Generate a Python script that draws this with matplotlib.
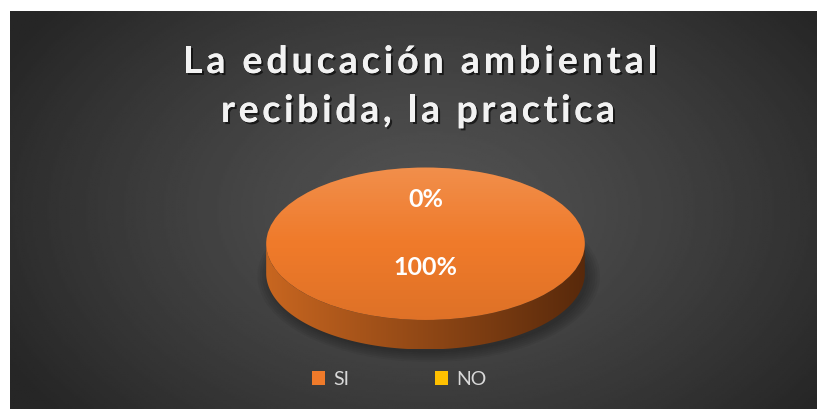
import numpy as np
import matplotlib.pyplot as plt
from matplotlib import patheffects as pe
from matplotlib.patches import Polygon, Ellipse
from matplotlib.font_manager import FontProperties, findfont
from matplotlib.ft2font import FT2Font

# datos
labels = ['SI', 'NO']
values = [100, 0]
colors = ['#ef7a2a', '#ffc000']
title_lines = ['La educación ambiental', 'recibida, la practica']

plt.rcParams['font.family'] = ['Lato', 'DejaVu Sans']

W, H = 817, 410
fig = plt.figure(figsize=(W / 100, H / 100), dpi=100)
fig.patch.set_facecolor('white')

# fondo con degradado radial
bg = fig.add_axes([10 / W, 0, (W - 10) / W, (H - 12) / H])
yy, xx = np.mgrid[0:1:200j, 0:1:400j]
r = np.sqrt(((xx - 0.52) / 0.6) ** 2 + ((yy - 0.5) / 0.8) ** 2)
v = 0.32 + (0.15 - 0.32) * np.clip(r, 0, 1) ** 1.3
bg.imshow(v, cmap='gray', vmin=0, vmax=1, extent=(0, 1, 0, 1), aspect='auto')
bg.axis('off')


# titulo con espaciado entre letras
def spaced_text(s, xc, ybase, size, width_px):
    fp = FontProperties(family='Lato', weight='bold', size=size)
    font = FT2Font(findfont(fp))
    font.set_size(size, 100)
    adv = [font.load_char(ord(c)).linearHoriAdvance / 65536 for c in s]
    sp = (width_px - sum(adv)) / (len(s) - 1)
    x = xc - width_px / 2
    shadow = [pe.withSimplePatchShadow(offset=(1.5, -1.5), shadow_rgbFace='black', alpha=0.6),
              pe.Normal()]
    for c, a in zip(s, adv):
        fig.text(x / W, 1 - ybase / H, c, ha='left', va='baseline', fontproperties=fp,
                 color='#f2f2f2', path_effects=shadow)
        x += a + sp


spaced_text(title_lines[0], 420, 74, 27, 474)
spaced_text(title_lines[1], 418, 123, 27, 394)

# pastel 3D
d = 0.387
ax = fig.add_axes([263 / W, (H - 352) / H, 325 / W, 185 / H])
wedges, texts, autotexts = ax.pie(values, colors=colors, startangle=90, radius=1,
                                  autopct='%1.0f%%', pctdistance=0.3,
                                  wedgeprops=dict(linewidth=0))
ax.set_aspect('auto')
ax.axis('off')

# sombra
for k in range(6):
    ax.add_patch(Ellipse((0.02, -d - 0.04), 2.0 + 0.03 * k, 2.0 + 0.05 * k,
                         facecolor='black', alpha=0.05, lw=0, zorder=0.2, clip_on=False))

# lado del cilindro
t = np.linspace(np.pi, 2 * np.pi, 200)
pts = np.vstack([np.column_stack([np.cos(t), np.sin(t)]),
                 np.column_stack([np.cos(t[::-1]), np.sin(t[::-1]) - d])])
side = Polygon(pts, closed=True, facecolor='none', lw=0, zorder=0.5)
ax.add_patch(side)
gx = np.linspace(0, 1, 300)
c0 = np.array([200, 102, 32]) / 255
c1 = np.array([88, 41, 11]) / 255
grad = c0[None, :] + (c1 - c0)[None, :] * gx[:, None]
im = ax.imshow(grad[None, :, :], extent=(-1, 1, -1 - d, 0), aspect='auto', zorder=0.6)
im.set_clip_path(side)

# brillo de la cara superior (arriba claro, abajo algo mas oscuro)
gy = np.linspace(0, 1, 200)
over = np.zeros((200, 1, 4))
top = gy < 0.5
over[:, 0, :3] = np.where(top[:, None], 1.0, 0.0)
over[:, 0, 3] = np.where(top, 0.16 * (1 - gy / 0.5), 0.07 * (gy - 0.5) / 0.5)
im2 = ax.imshow(over, extent=(-1, 1, -1, 1), origin='upper', aspect='auto', zorder=2)
im2.set_clip_path(wedges[0])
ax.set_xlim(-1.02, 1.02)
ax.set_ylim(-1 - d - 0.02, 1.02)

for at in autotexts:
    at.set_color('white')
    at.set_fontsize(18)
    at.set_fontweight('bold')
    at.set_zorder(3)
autotexts[0].set_position((0, -0.30))
autotexts[1].set_position((0, 0.60))

# leyenda
fig.legend(wedges, labels, loc='center', bbox_to_anchor=(399 / W, 1 - 380 / H), ncol=2,
           frameon=False, fontsize=14, labelcolor='#d9d9d9', handlelength=0.7,
           handleheight=0.7, handletextpad=0.4, columnspacing=4.4)

fig.savefig('out.png', dpi=100, facecolor='white')
